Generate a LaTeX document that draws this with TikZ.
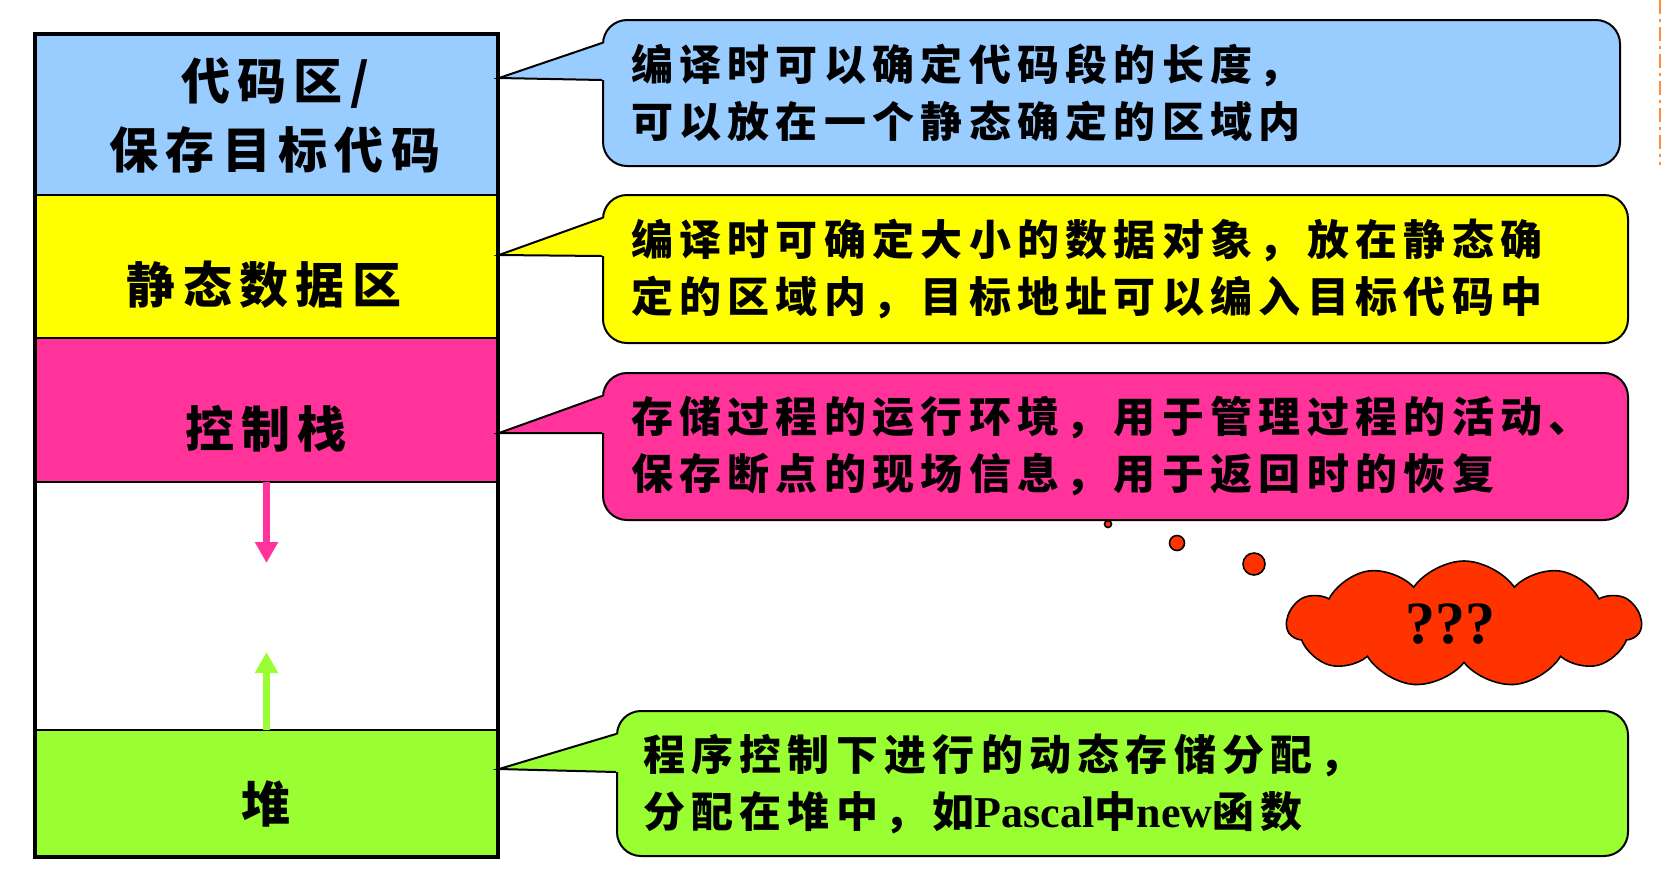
\documentclass[tikz,border=0pt]{standalone}
\usepackage{fontspec}
\newfontfamily\cjk{Noto Sans CJK SC}[LetterSpace=15]
\newfontfamily\latinbf{Liberation Serif}
\usetikzlibrary{positioning,calc,arrows.meta,shapes.symbols}

\definecolor{codeblue}{RGB}{153,204,255}
\definecolor{staticyellow}{RGB}{255,255,0}
\definecolor{stackpink}{RGB}{255,51,153}
\definecolor{heapgreen}{RGB}{153,255,51}
\definecolor{cloudred}{RGB}{255,51,0}
\definecolor{edgeorange}{RGB}{255,140,64}

\tikzset{
  memseg/.style={draw, line width=0.75pt, minimum width=231.5pt, inner sep=0pt, outer sep=0pt},
  seglabel/.style={font=\cjk\bfseries\fontsize{24.5}{34.5}\selectfont, align=center, inner sep=0pt},
  notebox/.style={draw, line width=1pt, rounded corners=12pt, anchor=north west, align=left,
    inner xsep=14pt, inner ysep=0pt, text width=#1, font=\cjk\bfseries\fontsize{21}{28.5}\selectfont},
  growarrow/.style={line width=3.5pt, -{Triangle[width=11pt,length=10.5pt]}},
  bubble/.style={circle, draw, line width=0.8pt, fill=cloudred, inner sep=0pt},
}

% wedge from a note to the memory block
\newcommand\notepointer[4]{%
  \fill[#2] (#3) -- ($(#1.north west)+(3,24)$) -- ($(#1.north west)+(3,#4)$) -- cycle;
  \draw[line width=1pt] ($(#1.north west)+(0,24)$) -- (#3) -- ($(#1.north west)+(0,#4)$);}

\begin{document}
\begin{tikzpicture}[x=0.5pt, y=-0.5pt]
  \useasboundingbox (0,0) rectangle (1670,875);

  % memory layout
  \node[memseg, fill=codeblue, minimum height=80.5pt] (codeseg) at (266.5,114.5) {};
  \node[memseg, fill=staticyellow, minimum height=71.5pt, below=0pt of codeseg] (staticseg) {};
  \node[memseg, fill=stackpink, minimum height=72pt, below=0pt of staticseg] (stackseg) {};
  \node[memseg, fill=white, minimum height=124pt, below=0pt of stackseg] (freeseg) {};
  \node[memseg, fill=heapgreen, minimum height=63.5pt, below=0pt of freeseg] (heapseg) {};

  \node[seglabel] (codelabel) at (275,115) {代码区/\\保存目标代码};
  \node[seglabel] (staticlabel) at (264,285) {静态数据区};
  \node[seglabel] (stacklabel) at (266,429) {控制栈};
  \node[seglabel] (heaplabel) at (266,804) {堆};

  \coordinate (stackend) at (266.5,563);
  \coordinate (heapend) at (266.5,652);
  \draw[growarrow, stackpink] (stackseg.south) -- (stackend);
  \draw[growarrow, heapgreen] (heapseg.north) -- (heapend);

  % notes
  \node[notebox=480.5pt, fill=codeblue, minimum height=73pt] (codenote) at (602,19)
    {编译时可以确定代码段的长度，\\可以放在一个静态确定的区域内};
  \node[notebox=484.5pt, fill=staticyellow, minimum height=74pt] (staticnote) at (602,194)
    {编译时可确定大小的数据对象，放在静态确\\定的区域内，目标地址可以编入目标代码中};
  \node[notebox=484.5pt, fill=stackpink, minimum height=73.5pt] (stacknote) at (602,372)
    {存储过程的运行环境，用于管理过程的活动、\\保存断点的现场信息，用于返回时的恢复};
  \node[notebox=479.5pt, fill=heapgreen, minimum height=72.5pt, inner xsep=13pt] (heapnote) at (616,710)
    {程序控制下进行的动态存储分配，\\分配在堆中，如{\latinbf\bfseries\fontsize{22}{28.5}\selectfont Pascal}中{\latinbf\bfseries\fontsize{22}{28.5}\selectfont new}函数};

  \coordinate (codeptr) at (499,78);
  \coordinate (staticptr) at (499,255);
  \coordinate (stackptr) at (499,433);
  \coordinate (heapptr) at (499,769);
  \notepointer{codenote}{codeblue}{codeptr}{61}
  \notepointer{staticnote}{staticyellow}{staticptr}{62}
  \notepointer{stacknote}{stackpink}{stackptr}{61}
  \notepointer{heapnote}{heapgreen}{heapptr}{62}

  \draw[line width=2.25pt] (codeseg.north west) rectangle (heapseg.south east);

  % thought cloud
  \node[bubble, minimum size=3.5pt] (bubblea) at (1108,524) {};
  \node[bubble, minimum size=7.5pt] (bubbleb) at (1177,543) {};
  \node[bubble, minimum size=11pt] (bubblec) at (1254,564) {};
  \node[cloud, cloud puffs=11, cloud puff arc=110, aspect=2.8, draw, line width=0.8pt, fill=cloudred,
    minimum width=177pt, minimum height=63pt, inner sep=0pt,
    font=\latinbf\bfseries\fontsize{30}{30}\selectfont] (doubt) at (1464,624) {???\hspace*{14pt}};

  \draw[edgeorange, line width=0.8pt, dash pattern=on 7pt off 2.5pt on 1.5pt off 2.5pt] (1660,0) -- (1660,165);
\end{tikzpicture}
\end{document}
